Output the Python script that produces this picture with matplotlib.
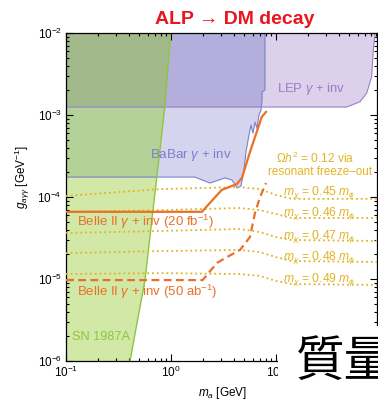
import matplotlib
matplotlib.use('Agg')
import matplotlib.pyplot as plt
from matplotlib.patches import Rectangle

plt.rcParams['font.family'] = ['Liberation Sans', 'DejaVu Sans']
plt.rcParams['mathtext.fontset'] = 'custom'
plt.rcParams['mathtext.rm'] = 'Liberation Sans'
plt.rcParams['mathtext.it'] = 'Liberation Sans:italic'
plt.rcParams['mathtext.bf'] = 'Liberation Sans:bold'

# values (m_a in GeV, g_agg in GeV^-1)
sn_m = [0.99, 0.877, 0.731, 0.565, 0.407]
sn_g = [1e-2, 1.32e-3, 1.71e-4, 9.7e-6, 1e-6]

babar_m = [0.1, 1.69, 2.35, 3.27, 3.81, 4.26, 4.64, 4.95, 5.18, 5.53, 5.78,
           6.04, 6.31, 6.59, 6.89, 7.2, 7.36, 7.36, 7.85, 7.85]
babar_g = [1.75e-4, 1.75e-4, 1.48e-4, 1.71e-4, 1.61e-4, 1.29e-4, 1.36e-4,
           2.14e-4, 3.54e-4, 5.7e-4, 7.55e-4, 6.0e-4, 8.2e-4, 6.9e-4, 1.0e-3,
           1.15e-3, 1.52e-3, 1.9e-3, 2.02e-3, 1e-2]

lep_m = [0.1, 47, 63, 73, 81.5, 84.5, 88]
lep_g = [1.25e-3, 1.25e-3, 1.45e-3, 1.84e-3, 2.93e-3, 6.2e-3, 1e-2]

belle20_m = [0.1, 1.97, 3.04, 4.23, 4.74, 5.65, 6.55, 7.31, 8.03]
belle20_g = [6.6e-5, 6.6e-5, 1.22e-4, 1.44e-4, 1.71e-4, 3.54e-4, 6.2e-4,
             9.46e-4, 1.09e-3]

belle50_m = [0.1, 2.0, 2.74, 3.41, 4.54, 5.65, 6.31, 7.05, 8.03]
belle50_g = [9.7e-6, 9.7e-6, 1.57e-5, 1.85e-5, 2.26e-5, 3.25e-5, 6.4e-5,
             1.0e-4, 1.48e-4]

relic_m = [0.1, 0.8, 4.5, 7, 10, 14, 95]
relic_045 = [1.03e-4, 1.25e-4, 1.32e-4, 1.25e-4, 1.06e-4, 9.5e-5, 9.5e-5]
relic_046 = [6.56e-5, 6.93e-5, 7.34e-5, 6.93e-5, 6.2e-5, 5.55e-5, 5.55e-5]
relic_047 = [3.64e-5, 3.85e-5, 4.07e-5, 3.74e-5, 3.25e-5, 2.99e-5, 2.91e-5]
relic_048 = [2.07e-5, 2.19e-5, 2.26e-5, 2.13e-5, 1.85e-5, 1.66e-5, 1.61e-5]
relic_049 = [1.15e-5, 1.18e-5, 1.15e-5, 1.09e-5, 9.46e-6, 8.69e-6, 8.45e-6]
relic_ratios = ['0.45', '0.46', '0.47', '0.48', '0.49']
relic_label_g = [1.13e-4, 6.3e-5, 3.28e-5, 1.84e-5, 9.9e-6]

gtop = 1e-2
mleft = 0.1

fig = plt.figure(figsize=(3.78, 4.01), dpi=100)
ax = fig.add_axes([66/378, 40/401, 311/378, 328/401])
ax.set_xscale('log')
ax.set_yscale('log')

# filled regions, overlaps drawn with their own colour through clipping
sn_patch = ax.fill([mleft] + sn_m[::-1] + [mleft],
                   [1e-6] + sn_g[::-1] + [gtop], color='#d2e8a6', lw=0, zorder=1)[0]
babar_patch = ax.fill(babar_m + [mleft], babar_g + [gtop],
                      color='#d4d4ee', lw=0, zorder=1)[0]
lep_patch = ax.fill(lep_m + [mleft], lep_g + [gtop],
                    color='#ddd0eb', lw=0, zorder=1)[0]
ov = ax.fill(lep_m + [mleft], lep_g + [gtop], color='#b4aedc', lw=0, zorder=1.1)[0]
ov.set_clip_path(babar_patch)
ov = ax.fill(babar_m + [mleft], babar_g + [gtop], color='#b4d197', lw=0, zorder=1.2)[0]
ov.set_clip_path(sn_patch)
ov = ax.fill(lep_m + [mleft], lep_g + [gtop], color='#a2b98c', lw=0, zorder=1.3)[0]
ov.set_clip_path(sn_patch)

ax.plot(babar_m, babar_g, color='#7c80cc', lw=0.8, zorder=2)
ax.plot(lep_m, lep_g, color='#9a80c4', lw=0.8, zorder=2)
ax.plot(sn_m, sn_g, color='#8cc63f', lw=1.0, zorder=2)

gold = '#e2b424'
for g in [relic_045, relic_046, relic_047, relic_048, relic_049]:
    ax.plot(relic_m, g, color=gold, ls=':', lw=1.3, zorder=3)

orange = '#e8702a'
ax.plot(belle20_m, belle20_g, color=orange, lw=1.6, zorder=4)
ax.plot(belle50_m, belle50_g, color=orange, lw=1.6, ls=(0, (3.5, 2)), zorder=4)

ax.set_xlim(0.1, 91.6)
ax.set_ylim(1e-6, 1e-2)
ax.tick_params(which='both', direction='in', top=True, right=True,
               labelsize=8.5, pad=3, width=0.8)
ax.tick_params(which='major', length=5)
ax.tick_params(which='minor', length=2.5)
for s in ax.spines.values():
    s.set_linewidth(0.9)

# labels
ax.text(10.2, 2.1e-3, r'LEP $\gamma$ + inv', color='#9a7cc8', fontsize=9.4,
        va='center', ha='left', zorder=5)
ax.text(0.63, 3.25e-4, r'BaBar $\gamma$ + inv', color='#7c7ec8', fontsize=9.6,
        va='center', ha='left', zorder=5)
ax.text(0.127, 4.96e-5, r'Belle II $\gamma$ + inv (20 fb$^{-1}$)', color=orange,
        fontsize=9.5, va='center', ha='left', zorder=5)
ax.text(0.127, 7.0e-6, r'Belle II $\gamma$ + inv (50 ab$^{-1}$)', color=orange,
        fontsize=9.5, va='center', ha='left', zorder=5)
ax.text(0.114, 1.96e-6, 'SN 1987A', color='#8cc63f', fontsize=9.2,
        va='center', ha='left', zorder=5)
ax.text(23.5, 2.99e-4, r'$\Omega h^2$ = 0.12 via', color=gold, fontsize=8.6,
        va='center', ha='center', zorder=5)
ax.text(26.2, 2.04e-4, 'resonant freeze\u2013out', color=gold, fontsize=8.4,
        va='center', ha='center', zorder=5)
for r, g in zip(relic_ratios, relic_label_g):
    ax.text(11.7, g, r'$m_\chi$ = ' + r + r' $m_\phi$', color=gold, fontsize=8.7,
            va='center', ha='left', zorder=5)

fig.text(22.5/378, 1 - 177/401, r'$g_{a\gamma\gamma}$ [GeV$^{-1}$]', rotation=90,
         fontsize=8.5, ha='center', va='center')
fig.text(223/378, 1 - 393/401, r'$m_a$ [GeV]', fontsize=8.5, ha='center', va='center')

fig.text(235/378, 1 - 19.5/401, 'ALP \u2192 DM decay', color='#e8161e',
         fontsize=14, fontweight='bold', ha='center', va='center')

# slide overlay in the lower right corner
fig.add_artist(Rectangle((278/378, 0), 1, 75/401, transform=fig.transFigure,
                         facecolor='white', edgecolor='none', zorder=10))
fig.text(296/378, 1 - 362.5/401, '質量', fontsize=35, family=['Noto Sans CJK JP'],
         ha='left', va='center', zorder=11)

fig.savefig('out.png', dpi=100)
